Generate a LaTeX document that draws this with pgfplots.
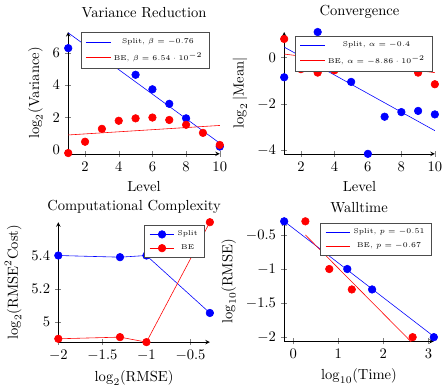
\documentclass[border=0pt]{standalone}
\usepackage{pgfplots}
\pgfplotsset{compat=1.18}

\pgfplotsset{
  myax/.style={
    scale only axis,
    axis lines=left,
    anchor=south west,
    legend cell align=center,
    legend style={font=\fontsize{4.8}{5.8}\selectfont, draw=black!70, line width=0.6pt,
      fill=white, row sep=0.6pt},
    every axis plot/.append style={thin},
  },
  lowtitle/.style={title style={yshift=-3.5pt}},
  dots/.style={only marks, mark=*, mark size=2.6pt},
}

\begin{document}
\begin{tikzpicture}

% Variance reduction
\begin{axis}[myax, at={(44.2pt,161.2pt)}, width=104pt, height=83.6pt,
  title={Variance Reduction}, xlabel={Level}, ylabel={$\log_2(\mathrm{Variance})$},
  xmin=1, xmax=10, ymin=-0.25, ymax=7.3,
  xtick={2,4,6,8,10}, ytick={0,2,4,6},
  legend style={at={(0.935,1)}, anchor=north east}]
\addplot[dots, blue, forget plot] coordinates {(1,6.3) (2,6.5) (3,5.6) (4,5.5) (5,4.65) (6,3.75) (7,2.85) (8,1.95) (10,0.2)};
\addplot[dots, red, forget plot] coordinates {(1,-0.2) (2,0.5) (3,1.3) (4,1.8) (5,1.95) (6,2.0) (7,1.85) (8,1.55) (9,1.05) (10,0.3)};
\addplot[blue] coordinates {(1,7.25) (10,0.41)};
\addplot[red] coordinates {(1,0.92) (10,1.51)};
\legend{{Split, $\beta=-0.76$}, {BE, $\beta=6.54\cdot10^{-2}$}}
\end{axis}

% Convergence
\begin{axis}[myax, at={(192.4pt,161.2pt)}, width=103.4pt, height=83.6pt,
  title={Convergence}, xlabel={Level}, ylabel={$\log_2|\mathrm{Mean}|$},
  xmin=1, xmax=10, ymin=-4.15, ymax=1.1,
  xtick={2,4,6,8,10}, ytick={-4,-2,0},
  legend style={at={(0.985,0.97)}, anchor=north east}]
\addplot[dots, blue, forget plot] coordinates {(1,-0.85) (2,0.7) (3,1.1) (5,-1.05) (6,-4.15) (7,-2.55) (8,-2.35) (9,-2.3) (10,-2.45)};
\addplot[dots, red, forget plot] coordinates {(1,0.8) (2,-0.5) (3,-0.65) (4,-0.55) (9,-0.65) (10,-1.15)};
\addplot[blue] coordinates {(1,0.45) (10,-3.15)};
\addplot[red] coordinates {(1,0.15) (10,-0.65)};
\legend{{Split, $\alpha=-0.4$}, {BE, $\alpha=-8.86\cdot10^{-2}$}}
\end{axis}

% Computational complexity
\begin{axis}[myax, lowtitle, at={(37.4pt,32pt)}, width=104pt, height=82.3pt,
  title={Computational Complexity}, xlabel={$\log_2(\mathrm{RMSE})$},
  ylabel={$\log_2(\mathrm{RMSE}^2\mathrm{Cost})$},
  xmin=-2, xmax=-0.28, ymin=4.88, ymax=5.6,
  xtick={-2,-1.5,-1,-0.5}, ytick={5,5.2,5.4},
  legend style={at={(0.97,0.98)}, anchor=north east}]
\addplot[blue, mark=*, mark size=2.6pt] coordinates {(-2,5.40) (-1.3,5.39) (-1,5.40) (-0.28,5.055)};
\addplot[red, mark=*, mark size=2.6pt] coordinates {(-2,4.90) (-1.3,4.91) (-1,4.88) (-0.28,5.60)};
\legend{Split, BE}
\end{axis}

% Walltime
\begin{axis}[myax, lowtitle, at={(192.4pt,32.6pt)}, width=102.7pt, height=82.3pt,
  title={Walltime}, xlabel={$\log_{10}(\mathrm{Time})$}, ylabel={$\log_{10}(\mathrm{RMSE})$},
  xmin=-0.2, xmax=3.12, ymin=-2.06, ymax=-0.3,
  xtick={0,1,2,3}, ytick={-0.5,-1,-1.5,-2},
  legend style={at={(0.99,0.99)}, anchor=north east}]
\addplot[dots, blue, forget plot] coordinates {(-0.2,-0.3) (1.2,-1.0) (1.75,-1.3) (3.12,-2.0)};
\addplot[dots, red, forget plot] coordinates {(0.27,-0.3) (0.8,-1.0) (1.3,-1.3) (2.65,-2.0)};
\addplot[blue] coordinates {(-0.2,-0.3) (3.12,-1.99)};
\addplot[red] coordinates {(0.27,-0.5) (2.62,-2.07)};
\legend{{Split, $p=-0.51$}, {BE, $p=-0.67$}}
\end{axis}

\end{tikzpicture}
\end{document}
